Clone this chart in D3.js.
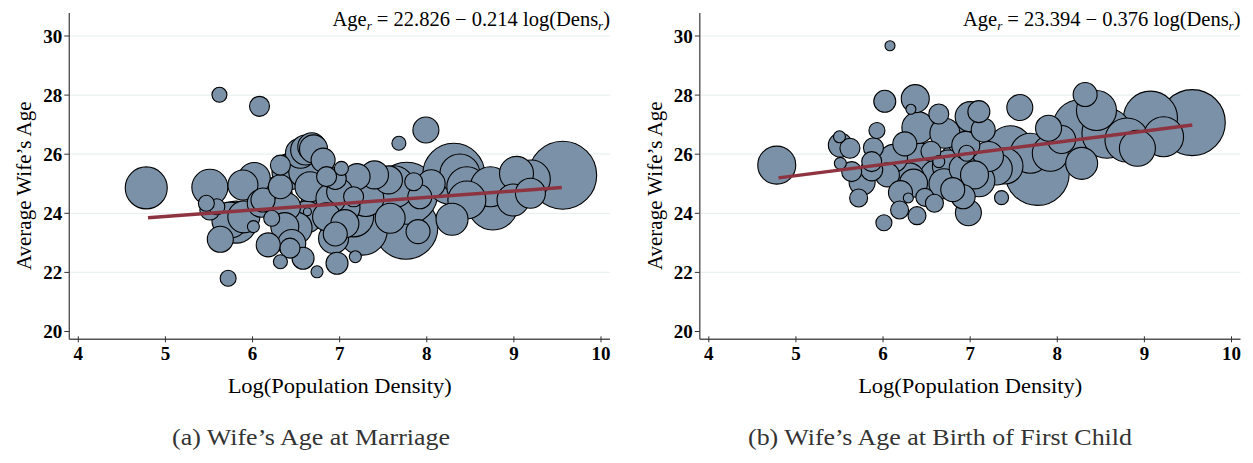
<!DOCTYPE html>
<html>
<head>
<meta charset="utf-8">
<script src="https://cdn.jsdelivr.net/npm/d3@7"></script>
<style>
  body { margin: 0; background: #fff; }
  text { font-family: "Liberation Serif", "DejaVu Serif", serif; }
</style>
</head>
<body>
<svg id="chart" width="1253" height="463"></svg>
<script>
// [log density, average wife's age, population weight]
var marriagePoints = [
  [4.78, 24.86, 441], [5.62, 28.01, 56], [6.08, 27.62, 100], [5.72, 21.80, 64],
  [5.51, 24.88, 324], [5.89, 24.96, 225], [6.02, 25.18, 256], [6.43, 25.41, 324],
  [6.68, 26.25, 196], [6.55, 26.03, 225], [6.81, 25.80, 144], [6.95, 25.18, 121],
  [7.02, 25.52, 49], [7.20, 25.24, 169], [7.45, 24.85, 441], [7.85, 25.07, 81],
  [7.68, 26.37, 49], [7.99, 26.82, 169], [6.32, 25.63, 100], [5.59, 24.22, 64],
  [5.47, 24.34, 64], [5.74, 23.77, 324], [5.90, 23.88, 256], [6.10, 24.34, 196],
  [6.39, 24.22, 196], [6.37, 23.55, 196], [6.62, 23.88, 256], [6.18, 22.93, 144],
  [6.43, 22.82, 100], [6.32, 22.36, 49], [6.58, 22.48, 121], [6.74, 22.02, 36],
  [6.93, 23.15, 225], [6.97, 22.31, 121], [7.18, 22.53, 36], [6.85, 23.88, 196],
  [7.16, 23.88, 400], [7.26, 23.43, 625], [6.12, 24.45, 144], [6.66, 24.90, 225],
  [7.00, 24.73, 169], [7.62, 24.90, 441], [7.77, 24.68, 961], [7.76, 23.53, 1024],
  [7.58, 23.83, 225], [7.90, 23.38, 144], [8.29, 23.80, 256], [8.31, 25.32, 961],
  [8.38, 25.33, 400], [8.46, 24.90, 400], [8.73, 24.90, 400], [9.03, 25.35, 289],
  [9.20, 25.16, 361], [9.56, 25.29, 1156], [8.46, 24.45, 361], [8.76, 24.28, 625],
  [8.99, 24.45, 256], [9.19, 24.68, 225], [5.63, 23.12, 169], [6.01, 23.55, 36],
  [6.63, 24.05, 16], [5.51, 24.11, 100], [5.81, 23.70, 441], [6.22, 23.83, 64],
  [6.32, 24.90, 144], [6.85, 25.24, 100], [7.16, 24.56, 100], [7.92, 24.56, 144],
  [7.56, 25.13, 196], [6.45, 22.98, 196], [6.70, 26.18, 196], [6.61, 26.14, 225],
  [7.06, 23.65, 196], [6.95, 23.30, 144], [8.05, 25.00, 196],
  [6.25, 24.60, 324], [6.75, 24.30, 289], [7.05, 24.20, 256], [6.50, 23.50, 256],
  [7.30, 24.50, 324], [6.60, 25.40, 256], [7.40, 25.30, 196], [6.90, 24.50, 225]
];

var birthPoints = [
  [4.78, 25.63, 361], [6.08, 29.67, 25], [6.02, 27.79, 121], [6.37, 27.88, 196],
  [6.32, 27.52, 25], [6.40, 26.90, 256], [5.93, 26.80, 64], [5.51, 26.31, 144],
  [5.62, 26.20, 100], [5.50, 26.59, 36], [5.89, 26.22, 100], [5.87, 25.75, 100],
  [5.51, 25.69, 36], [5.64, 25.41, 100], [5.76, 25.05, 169], [5.72, 24.52, 81],
  [5.87, 25.47, 121], [6.01, 23.68, 64], [6.19, 24.11, 81], [6.29, 24.52, 25],
  [6.39, 23.92, 81], [6.48, 24.54, 81], [6.59, 24.34, 81], [6.64, 27.36, 100],
  [6.71, 26.71, 225], [6.12, 25.86, 196], [6.21, 25.47, 289], [6.43, 25.80, 289],
  [6.64, 25.75, 36], [6.62, 25.24, 289], [6.35, 25.02, 196], [6.92, 24.56, 144],
  [6.98, 24.02, 169], [6.92, 26.48, 256], [7.00, 27.27, 225], [7.10, 27.44, 121],
  [7.15, 26.82, 144], [6.96, 26.03, 64], [7.21, 25.92, 225], [6.92, 25.52, 196],
  [7.36, 24.53, 49], [7.46, 26.22, 484], [7.57, 27.58, 169], [7.77, 25.35, 1024],
  [7.90, 26.88, 169], [7.69, 26.03, 400], [7.92, 26.03, 324], [8.28, 25.69, 256],
  [8.26, 26.93, 729], [8.32, 28.02, 144], [8.45, 27.48, 400], [8.57, 26.71, 625],
  [9.07, 27.22, 729], [9.55, 27.07, 1089], [9.22, 26.59, 400], [8.80, 26.48, 484],
  [8.92, 26.20, 324], [6.55, 26.10, 100], [6.75, 25.60, 256], [7.05, 25.30, 196],
  [6.25, 26.35, 144], [6.80, 24.80, 144], [7.30, 25.50, 256], [6.05, 25.30, 144],
  [8.05, 26.50, 196],
  [6.50, 25.40, 324], [6.85, 25.80, 289], [7.10, 25.10, 256], [6.30, 25.20, 225],
  [7.40, 25.60, 324], [6.95, 26.30, 196], [6.20, 24.70, 144], [6.70, 25.00, 225]
];

// fitted lines: intercept, slope, x range
var marriageFit = [22.826, 0.214, 4.8, 9.55];
var birthFit = [23.394, 0.376, 4.8, 9.55];

var xTicks = [4, 5, 6, 7, 8, 9, 10];
var yTicks = [20, 22, 24, 26, 28, 30];

var panels = [
  { points: marriagePoints, fit: marriageFit, coef: ["22.826", "0.214"],
    caption: "(a)  Wife\u2019s Age at Marriage", capX: 311, capW: 278, offset: 0 },
  { points: birthPoints, fit: birthFit, coef: ["23.394", "0.376"],
    caption: "(b)  Wife\u2019s Age at Birth of First Child", capX: 940, capW: 384, offset: 630.5 }
];

var svg = d3.select("#chart");

var x = d3.scaleLinear().domain([4, 10]).range([78.3, 601]);
var y = d3.scaleLinear().domain([20, 30]).range([331.5, 36]);
var r = d3.scaleSqrt().domain([0, 1156]).range([0, 34]);

panels.forEach(function(p) {
  var g = svg.append("g").attr("transform", "translate(" + p.offset + ",0)");
  var x0 = 69.3, x1 = 610, yBase = 339.3, yTop = 13;

  // grid
  g.selectAll(".grid")
    .data(yTicks.filter(function(d) { return d > 20; }))
    .enter().append("line")
    .attr("x1", x0 + 1).attr("x2", x1)
    .attr("y1", function(d) { return y(d); })
    .attr("y2", function(d) { return y(d); })
    .attr("stroke", "#e9f0f0").attr("stroke-width", 1.2);

  // bubbles, big ones first
  var pts = p.points.slice().sort(function(a, b) { return b[2] - a[2]; });
  g.selectAll(".bubble")
    .data(pts)
    .enter().append("circle")
    .attr("class", "bubble")
    .attr("cx", function(d) { return x(d[0]); })
    .attr("cy", function(d) { return y(d[1]); })
    .attr("r", function(d) { return r(d[2]); })
    .attr("fill", "#7b91a8")
    .attr("stroke", "#000")
    .attr("stroke-width", 1.1);

  // fitted line
  g.append("line")
    .attr("x1", x(p.fit[2])).attr("y1", y(p.fit[0] + p.fit[1] * p.fit[2]))
    .attr("x2", x(p.fit[3])).attr("y2", y(p.fit[0] + p.fit[1] * p.fit[3]))
    .attr("stroke", "#8e3440").attr("stroke-width", 3.5)
    .attr("stroke-linecap", "butt");

  // axes
  g.append("line").attr("x1", x0).attr("x2", x0).attr("y1", yTop).attr("y2", yBase)
    .attr("stroke", "#555").attr("stroke-width", 1.4);
  g.append("line").attr("x1", x0).attr("x2", x1).attr("y1", yBase).attr("y2", yBase)
    .attr("stroke", "#555").attr("stroke-width", 1.4);

  g.selectAll(".ytick").data(yTicks).enter().append("line")
    .attr("x1", x0 - 5).attr("x2", x0)
    .attr("y1", function(d) { return y(d); }).attr("y2", function(d) { return y(d); })
    .attr("stroke", "#333").attr("stroke-width", 1);
  g.selectAll(".ylab").data(yTicks).enter().append("text")
    .attr("x", x0 - 7).attr("y", function(d) { return y(d); })
    .attr("dy", "0.36em").attr("text-anchor", "end")
    .attr("font-size", 19).attr("font-weight", "bold")
    .text(function(d) { return d; });

  g.selectAll(".xtick").data(xTicks).enter().append("line")
    .attr("x1", function(d) { return x(d); }).attr("x2", function(d) { return x(d); })
    .attr("y1", yBase - 3).attr("y2", yBase + 3)
    .attr("stroke", "#333").attr("stroke-width", 1);
  g.selectAll(".xlab").data(xTicks).enter().append("text")
    .attr("x", function(d) { return x(d); }).attr("y", 360)
    .attr("text-anchor", "middle")
    .attr("font-size", 19).attr("font-weight", "bold")
    .text(function(d) { return d; });

  // axis titles
  g.append("text")
    .attr("x", (x(4) + x(10)) / 2).attr("y", 393)
    .attr("text-anchor", "middle").attr("font-size", 22)
    .attr("textLength", 224).attr("lengthAdjust", "spacingAndGlyphs")
    .text("Log(Population Density)");
  g.append("text")
    .attr("transform", "translate(31," + (y(25) + 2) + ") rotate(-90)")
    .attr("text-anchor", "middle").attr("font-size", 21)
    .text("Average Wife\u2019s Age");

  // equation
  var eq = g.append("text")
    .attr("x", x1).attr("y", 26)
    .attr("text-anchor", "end").attr("font-size", 20.5);
  eq.append("tspan").text("Age");
  eq.append("tspan").attr("font-size", 13).attr("font-style", "italic").attr("dy", 4).text("r");
  eq.append("tspan").attr("dy", -4).text(" = " + p.coef[0] + " \u2212 " + p.coef[1] + " log(Dens");
  eq.append("tspan").attr("font-size", 13).attr("font-style", "italic").attr("dy", 4).text("r");
  eq.append("tspan").attr("dy", -4).text(")");

  // caption
  svg.append("text")
    .attr("x", p.capX).attr("y", 445)
    .attr("text-anchor", "middle").attr("font-size", 23)
    .attr("textLength", p.capW).attr("lengthAdjust", "spacingAndGlyphs")
    .attr("fill", "#333")
    .text(p.caption);
});
</script>
</body>
</html>
